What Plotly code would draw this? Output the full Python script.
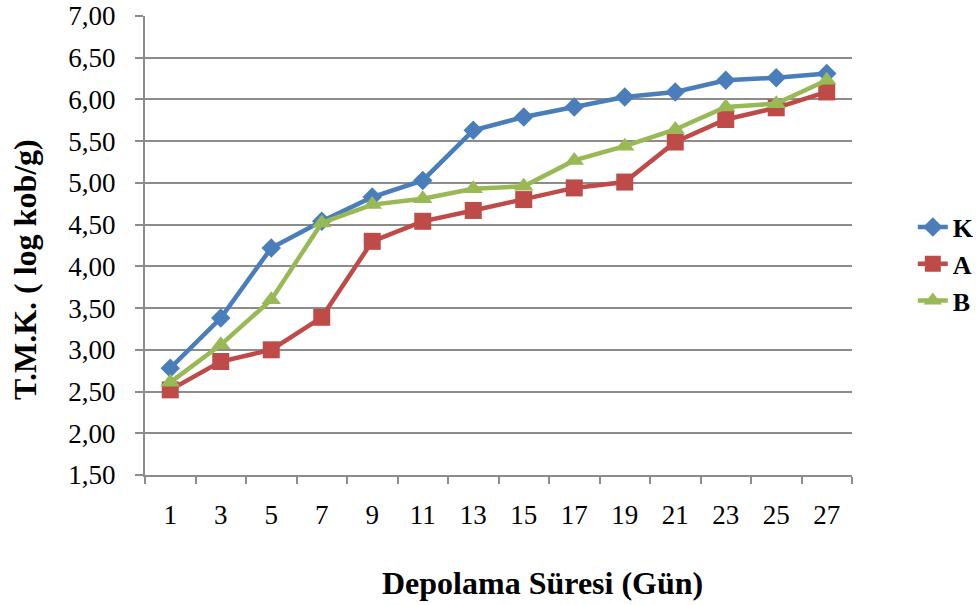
import plotly.graph_objects as go

# Storage days (category axis)
days = ["1", "3", "5", "7", "9", "11", "13", "15", "17", "19", "21", "23", "25", "27"]

# Total mesophilic count, log cfu/g
k_values = [2.78, 3.38, 4.22, 4.54, 4.83, 5.03, 5.63, 5.79, 5.91, 6.03, 6.09, 6.23, 6.26, 6.31]
a_values = [2.52, 2.86, 3.00, 3.39, 4.30, 4.54, 4.67, 4.80, 4.94, 5.01, 5.49, 5.76, 5.90, 6.09]
b_values = [2.61, 3.06, 3.60, 4.52, 4.74, 4.81, 4.93, 4.96, 5.27, 5.44, 5.64, 5.91, 5.95, 6.23]

y_ticks = [1.5, 2.0, 2.5, 3.0, 3.5, 4.0, 4.5, 5.0, 5.5, 6.0, 6.5, 7.0]
y_tick_labels = ["1,50", "2,00", "2,50", "3,00", "3,50", "4,00", "4,50",
                 "5,00", "5,50", "6,00", "6,50", "7,00"]

FONT = "Liberation Serif"
GRID = "#8c8c8c"

series = [
    ("K", k_values, "#4A7EBB", "diamond", 15),
    ("A", a_values, "#BE4B48", "square", 17),
    ("B", b_values, "#98B954", "triangle-up", 17),
]

fig = go.Figure()
for name, vals, color, symbol, size in series:
    fig.add_trace(go.Scatter(
        x=days, y=vals, name=name, mode="lines+markers",
        line=dict(color=color, width=4.5),
        marker=dict(symbol=symbol, size=size, color=color),
    ))

fig.update_layout(
    width=976, height=605,
    margin=dict(l=145, r=124, t=16, b=130, autoexpand=False),
    paper_bgcolor="white", plot_bgcolor="white",
    font=dict(family=FONT, size=27, color="black"),
    showlegend=True,
    legend=dict(
        x=1.086, y=(475 - 264) / 459, xanchor="left", yanchor="middle",
        font=dict(family=FONT, size=26, color="black", weight="bold"),
        itemwidth=30, tracegroupgap=0,
        bgcolor="rgba(0,0,0,0)",
    ),
    xaxis=dict(
        type="category", automargin=False,
        showgrid=False,
        showline=True, linecolor=GRID, linewidth=2,
        ticks="outside", tickson="boundaries", ticklen=7, tickcolor=GRID, tickwidth=2,
        tickfont=dict(family=FONT, size=27),
        ticklabelstandoff=15,
        range=[-0.5, 13.5],
    ),
    yaxis=dict(
        range=[1.5, 7.0], automargin=False,
        tickvals=y_ticks, ticktext=y_tick_labels,
        showgrid=True, gridcolor=GRID, gridwidth=2,
        showline=True, linecolor=GRID, linewidth=2,
        ticks="outside", ticklen=8, tickcolor=GRID, tickwidth=2,
        tickfont=dict(family=FONT, size=27),
        ticklabelstandoff=14,
        zeroline=False,
    ),
    annotations=[
        dict(text="<b>Depolama Süresi (Gün)</b>", xref="paper", yref="paper",
             x=(542 - 145) / 707, y=-(583 - 475) / 459, xanchor="center", yanchor="middle",
             showarrow=False, font=dict(family=FONT, size=32, color="black")),
        dict(text="<b>T.M.K. ( log kob/g)</b>", xref="paper", yref="paper",
             x=-(145 - 25) / 707, y=(475 - 270) / 459, xanchor="center", yanchor="middle",
             textangle=-90, showarrow=False, font=dict(family=FONT, size=32, color="black")),
    ],
)

fig.write_html("out.html")
